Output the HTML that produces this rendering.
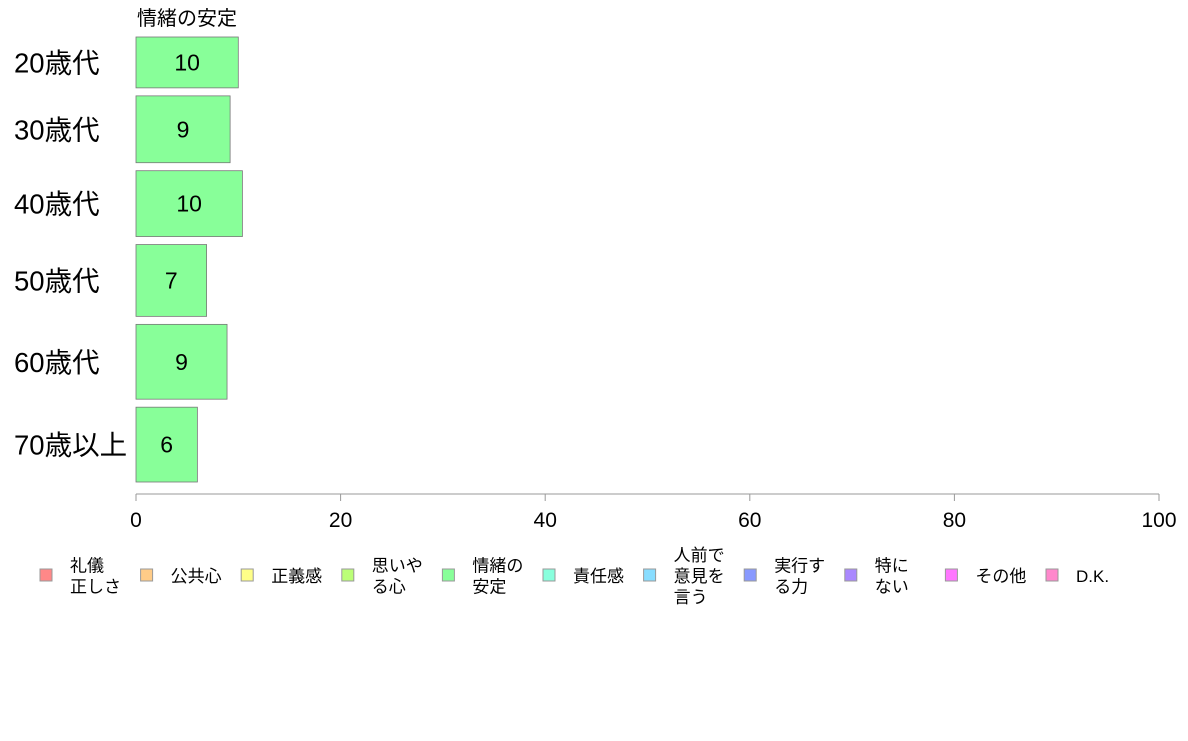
<!DOCTYPE html>
<html><head><meta charset="utf-8"><style>
body{margin:0;background:#fff;}
svg text{font-family:"Liberation Sans","Noto Sans CJK JP",sans-serif;fill:#000;}
</style></head><body>
<svg id="c" width="1188" height="736"></svg>
<script>
const categories=["20歳代","30歳代","40歳代","50歳代","60歳代","70歳以上"];
const values=[10,9.2,10.4,6.9,8.9,6.0];
const labels=["10","9","10","7","9","6"];
const weights=[51,67,66,72,75,75];
const xTicks=[0,20,40,60,80,100];
const legendNames=[["礼儀","正しさ"],["公共心"],["正義感"],["思いや","る心"],["情緒の","安定"],["責任感"],["人前で","意見を","言う"],["実行す","る力"],["特に","ない"],["その他"],["D.K."]];
const legendColors=["#ff8888","#ffcc88","#ffff88","#bbff77","#88ff99","#88ffdd","#88ddff","#8899ff","#aa88ff","#ff77ff","#ff88cc"];
const svg=document.getElementById('c');const NS="http://www.w3.org/2000/svg";
function mk(t,a,txt){const e=document.createElementNS(NS,t);for(const k in a)e.setAttribute(k,a[k]);if(txt!==undefined)e.textContent=txt;svg.appendChild(e);return e;}
const x0=136,x1=1159,xs=v=>x0+(v-0)/(100-0)*(x1-x0);
const barTop=37,gap=8,barBottom=482;
const totalW=weights.reduce((a,b)=>a+b,0);
const unit=(barBottom-barTop-gap*(weights.length-1))/totalW;
const title=mk('text',{x:137,y:25,'font-size':20},"情緒の安定");


let yy=barTop;
categories.forEach((c,i)=>{
  const h=weights[i]*unit;
  const r=mk('rect',{x:x0,y:yy,width:xs(values[i])-x0,height:h,fill:"#88ff99",stroke:"#777","stroke-width":0.8});
  
  
  const t=mk('text',{x:(x0+xs(values[i]))/2,y:yy+h/2+8,'font-size':23,'text-anchor':'middle'},labels[i]);
  
  
  const l=mk('text',{x:14,y:yy+h/2+10,'font-size':27.5},c);
  
  
  yy+=h+gap;
});
const ax=mk('line',{x1:x0,x2:x1,y1:494,y2:494,stroke:"#999","stroke-width":1});


xTicks.forEach(v=>{
  const tk=mk('line',{x1:xs(v),x2:xs(v),y1:494,y2:501,stroke:"#999"});
  
  
  const tl=mk('text',{x:xs(v),y:527,'font-size':21,'text-anchor':'middle'},String(v));
  
  
});
legendNames.forEach((n,i)=>{
  const lx=40+i*100.6;
  const s=mk('rect',{x:lx,y:569,width:12,height:12,fill:legendColors[i],stroke:"#999","stroke-width":1});
  
  
  const y0=576-(n.length-1)*10.5+6;
  n.forEach((line,j)=>{
    const t=mk('text',{x:lx+30,y:y0+j*21,'font-size':17},line);
    
    
  });
});
</script>
</body></html>
